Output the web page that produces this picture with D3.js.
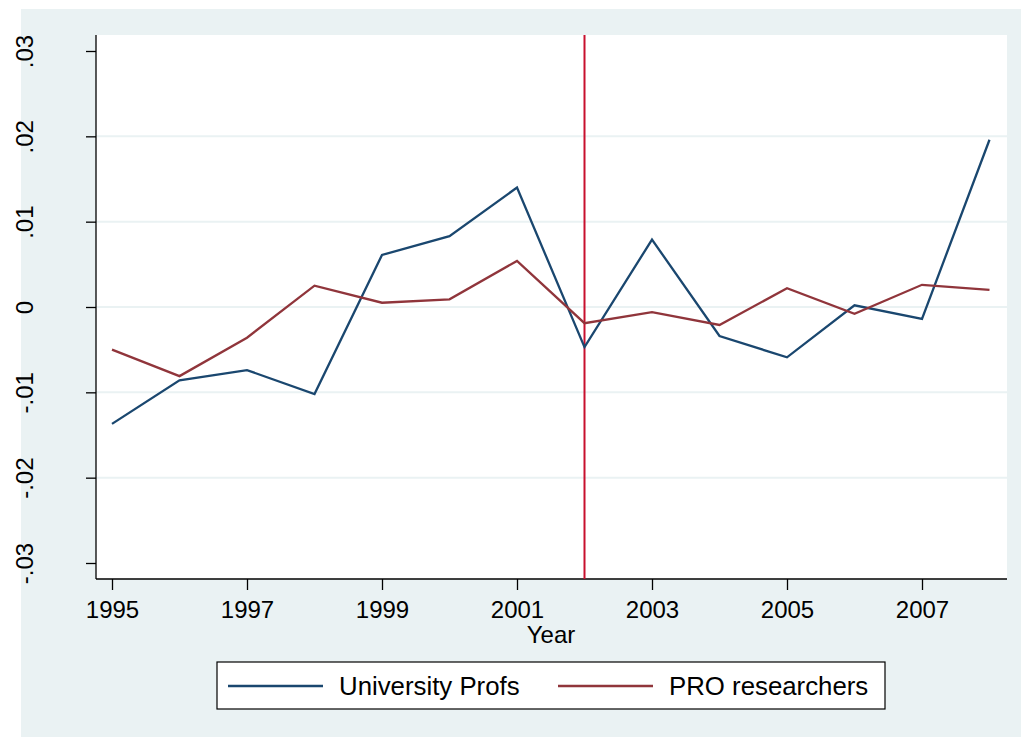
<!DOCTYPE html>
<html>
<head>
<meta charset="utf-8">
<script src="https://cdn.jsdelivr.net/npm/d3@7"></script>
<style>
  body { margin: 0; background: #fff; }
  svg { display: block; }
  text { font-family: "Liberation Sans", Arial, sans-serif; fill: #000; }
</style>
</head>
<body>
<svg id="chart" width="1021" height="737"></svg>
<script>
// data
var years = [1995, 1996, 1997, 1998, 1999, 2000, 2001, 2002, 2003, 2004, 2005, 2006, 2007, 2008]
var univProfs = [-0.0137, -0.0086, -0.0074, -0.0102, 0.0061, 0.0083, 0.0140, -0.0047, 0.0079, -0.0034, -0.0059, 0.0002, -0.0014, 0.0196]
var proResearchers = [-0.0050, -0.0081, -0.0036, 0.0025, 0.0005, 0.0009, 0.0054, -0.0019, -0.0006, -0.0021, 0.0022, -0.0008, 0.0026, 0.0020]
var yTicks = [-0.03, -0.02, -0.01, 0, 0.01, 0.02, 0.03]
var xTicks = [1995, 1997, 1999, 2001, 2003, 2005, 2007]
var eventYear = 2002
var seriesNames = ['University Profs', 'PRO researchers']
var seriesColors = ['#1a476f', '#90353b']

var svg = d3.select('#chart')

var plot = { left: 96, right: 1007, top: 35, bottom: 579 }

// outer graph region
svg.append('rect')
  .attr('x', 21).attr('y', 9)
  .attr('width', 1000).attr('height', 728)
  .attr('fill', '#eaf2f3')

svg.append('rect')
  .attr('x', plot.left).attr('y', plot.top)
  .attr('width', plot.right - plot.left).attr('height', plot.bottom - plot.top)
  .attr('fill', '#fff')

var x = d3.scaleLinear().domain([1995, 2008]).range([112, 989.5])
var y = d3.scaleLinear().domain([-0.03, 0.03]).range([563, 51])

// grid lines (not on the outer ticks)
svg.append('g')
  .selectAll('line')
  .data(yTicks.filter(function (d) { return Math.abs(d) < 0.025 }))
  .enter()
  .append('line')
  .attr('x1', plot.left).attr('x2', plot.right)
  .attr('y1', function (d) { return y(d) })
  .attr('y2', function (d) { return y(d) })
  .attr('stroke', '#eaf2f3')
  .attr('stroke-width', 2)

// stata style: .01, -.02, 0 (plain hyphen)
function fmt(d) {
  if (d === 0) return '0'
  var s = Math.abs(d).toFixed(2).replace('0.', '.')
  return (d < 0 ? '-' : '') + s
}

// y axis
var yAxis = svg.append('g')
  .attr('transform', 'translate(' + plot.left + ',0)')
  .call(d3.axisLeft(y).tickValues(yTicks).tickSize(10).tickFormat(fmt))
yAxis.select('.domain')
  .attr('d', 'M0,' + plot.top + 'V' + plot.bottom)
  .attr('stroke', '#000').attr('stroke-width', 1.3)
yAxis.selectAll('.tick line').attr('stroke', '#000').attr('stroke-width', 1.3)
yAxis.selectAll('.tick text')
  .attr('x', null).attr('dy', null)
  .attr('transform', 'translate(-63,0) rotate(-90)')
  .attr('text-anchor', 'middle')
  .style('font-size', '24px')
  .style('font-family', '"Liberation Sans", Arial, sans-serif')
  .attr('fill', '#000')

// x axis
var xAxis = svg.append('g')
  .attr('transform', 'translate(0,' + plot.bottom + ')')
  .call(d3.axisBottom(x).tickValues(xTicks).tickSize(11).tickFormat(d3.format('d')))
xAxis.select('.domain')
  .attr('d', 'M' + plot.left + ',0H' + plot.right)
  .attr('stroke', '#000').attr('stroke-width', 1.3)
xAxis.selectAll('.tick line').attr('stroke', '#000').attr('stroke-width', 1.3)
xAxis.selectAll('.tick text')
  .attr('y', 39).attr('dy', null)
  .style('font-size', '24px')
  .style('font-family', '"Liberation Sans", Arial, sans-serif')
  .attr('fill', '#000')

svg.append('text')
  .attr('x', 551).attr('y', 643)
  .attr('text-anchor', 'middle')
  .style('font-size', '24px')
  .text('Year')

// event line
svg.append('line')
  .attr('x1', x(eventYear)).attr('x2', x(eventYear))
  .attr('y1', plot.top).attr('y2', plot.bottom)
  .attr('stroke', '#c8102e')
  .attr('stroke-width', 2)

var line = d3.line()
  .x(function (d, i) { return x(years[i]) })
  .y(function (d) { return y(d) })

;[univProfs, proResearchers].forEach(function (s, i) {
  svg.append('path')
    .datum(s)
    .attr('d', line)
    .attr('fill', 'none')
    .attr('stroke', seriesColors[i])
    .attr('stroke-width', 2.3)
    .attr('stroke-linejoin', 'miter')
})

// legend
var legend = svg.append('g')
legend.append('rect')
  .attr('x', 217).attr('y', 662)
  .attr('width', 668).attr('height', 47)
  .attr('fill', '#fff')
  .attr('stroke', '#000')
  .attr('stroke-width', 1.2)

var legendX = [228, 558]
seriesNames.forEach(function (name, i) {
  legend.append('line')
    .attr('x1', legendX[i]).attr('x2', legendX[i] + 95)
    .attr('y1', 686).attr('y2', 686)
    .attr('stroke', seriesColors[i])
    .attr('stroke-width', 2.3)
  legend.append('text')
    .attr('x', legendX[i] + 111).attr('y', 695)
    .style('font-size', '25.8px')
    .text(name)
})
</script>
</body>
</html>
